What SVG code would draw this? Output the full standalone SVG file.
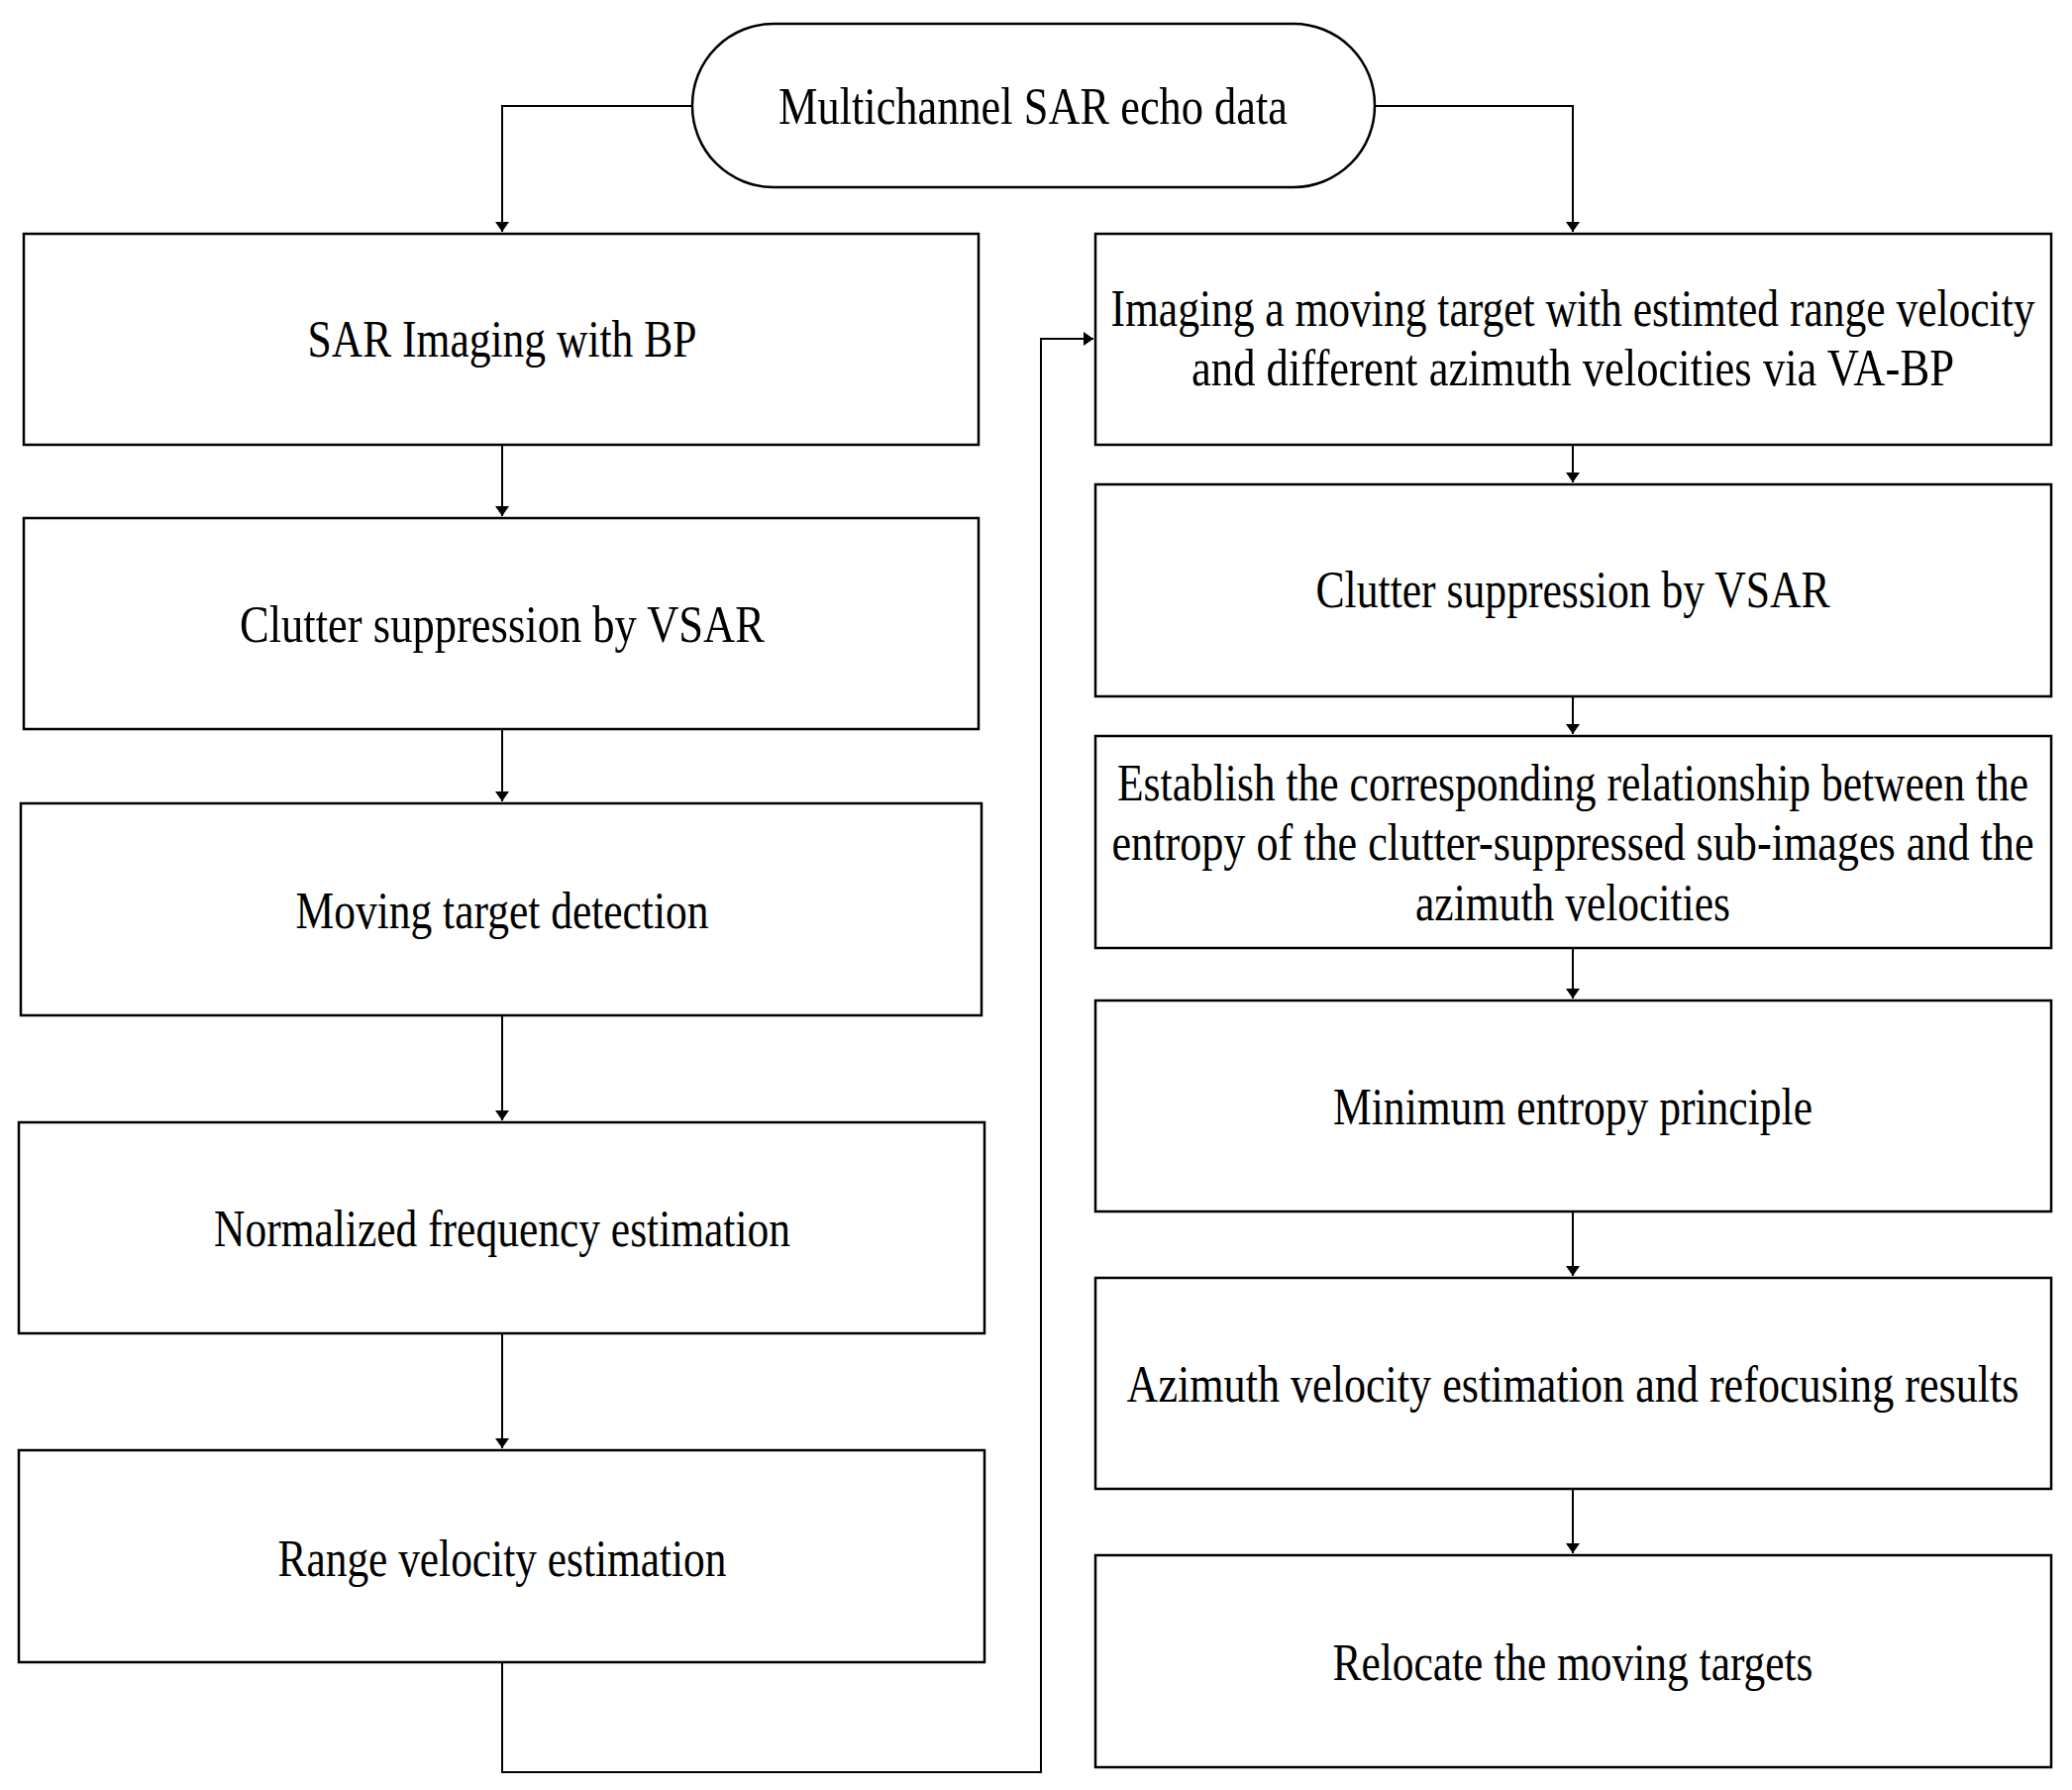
<svg xmlns="http://www.w3.org/2000/svg" width="2092" height="1807" viewBox="0 0 2092 1807">
<style>
.b{fill:#fff;stroke:#000;stroke-width:2.5}
.t{font-family:"Liberation Serif","Times New Roman",serif;font-size:52px;fill:#000;text-anchor:middle}
.c{fill:none;stroke:#000;stroke-width:2}
</style>
<defs><marker id="a" markerWidth="10" markerHeight="14" refX="10" refY="7" orient="auto" markerUnits="userSpaceOnUse"><path d="M0,0 L10,7 L0,14 Z" fill="#000"/></marker></defs>
<rect width="2092" height="1807" fill="#fff"/>
<g id="connectors">
<path class="c" d="M699,107 H507 V234" marker-end="url(#a)"/>
<path class="c" d="M1388,107 H1588 V234" marker-end="url(#a)"/>
<path class="c" d="M507,449 V521" marker-end="url(#a)"/>
<path class="c" d="M507,736 V809" marker-end="url(#a)"/>
<path class="c" d="M507,1025 V1131" marker-end="url(#a)"/>
<path class="c" d="M507,1346 V1462" marker-end="url(#a)"/>
<path class="c" d="M507,1678 V1789 H1051 V342 H1104" marker-end="url(#a)"/>
<path class="c" d="M1588,449 V487" marker-end="url(#a)"/>
<path class="c" d="M1588,703 V741" marker-end="url(#a)"/>
<path class="c" d="M1588,957 V1008" marker-end="url(#a)"/>
<path class="c" d="M1588,1223 V1288" marker-end="url(#a)"/>
<path class="c" d="M1588,1503 V1568" marker-end="url(#a)"/>
</g>
<g id="start"><rect class="b" x="699" y="24" width="689" height="165" rx="82" ry="82"/><text class="t" x="1043" y="125" textLength="514" lengthAdjust="spacingAndGlyphs">Multichannel SAR  echo data</text></g>
<g id="L1"><rect class="b" x="24" y="236" width="964" height="213"/><text class="t" x="507" y="360" textLength="393" lengthAdjust="spacingAndGlyphs">SAR Imaging with BP</text></g>
<g id="L2"><rect class="b" x="24" y="523" width="964" height="213"/><text class="t" x="507" y="648" textLength="530" lengthAdjust="spacingAndGlyphs">Clutter suppression  by VSAR</text></g>
<g id="L3"><rect class="b" x="21" y="811" width="970" height="214"/><text class="t" x="507" y="937" textLength="417" lengthAdjust="spacingAndGlyphs">Moving target detection</text></g>
<g id="L4"><rect class="b" x="19" y="1133" width="975" height="213"/><text class="t" x="507" y="1258" textLength="582" lengthAdjust="spacingAndGlyphs">Normalized frequency estimation</text></g>
<g id="L5"><rect class="b" x="19" y="1464" width="975" height="214"/><text class="t" x="507" y="1591" textLength="453" lengthAdjust="spacingAndGlyphs">Range velocity estimation</text></g>
<g id="R1"><rect class="b" x="1106" y="236" width="965" height="213"/><text class="t" x="1588" y="329" textLength="933" lengthAdjust="spacingAndGlyphs">Imaging a moving target with estimted range velocity</text><text class="t" x="1588" y="389" textLength="770" lengthAdjust="spacingAndGlyphs">and  different azimuth velocities via VA-BP</text></g>
<g id="R2"><rect class="b" x="1106" y="489" width="965" height="214"/><text class="t" x="1588" y="613" textLength="519" lengthAdjust="spacingAndGlyphs">Clutter suppression by VSAR</text></g>
<g id="R3"><rect class="b" x="1106" y="743" width="965" height="214"/><text class="t" x="1588" y="808" textLength="920" lengthAdjust="spacingAndGlyphs">Establish the corresponding relationship between the</text><text class="t" x="1588" y="868" textLength="931" lengthAdjust="spacingAndGlyphs">entropy of the clutter-suppressed sub-images  and the</text><text class="t" x="1588" y="929" textLength="318" lengthAdjust="spacingAndGlyphs">azimuth velocities</text></g>
<g id="R4"><rect class="b" x="1106" y="1010" width="965" height="213"/><text class="t" x="1588" y="1135" textLength="484" lengthAdjust="spacingAndGlyphs">Minimum entropy principle</text></g>
<g id="R5"><rect class="b" x="1106" y="1290" width="965" height="213"/><text class="t" x="1588" y="1415" textLength="901" lengthAdjust="spacingAndGlyphs">Azimuth velocity estimation  and refocusing results</text></g>
<g id="R6"><rect class="b" x="1106" y="1570" width="965" height="214"/><text class="t" x="1588" y="1696" textLength="485" lengthAdjust="spacingAndGlyphs">Relocate the moving targets</text></g>
</svg>
